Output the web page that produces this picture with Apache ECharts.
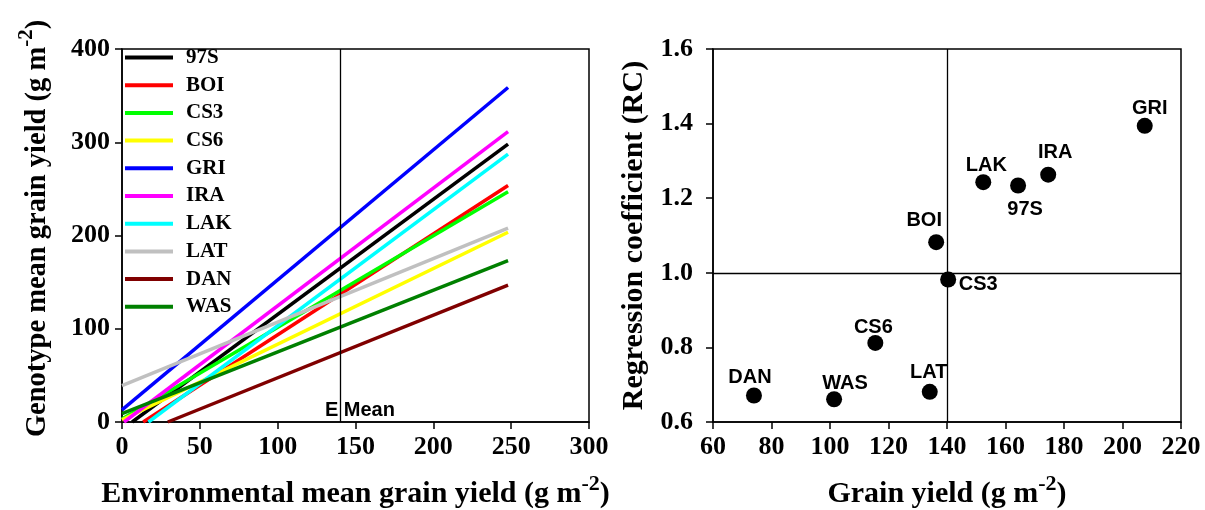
<!DOCTYPE html>
<html><head><meta charset="utf-8">
<script src="https://cdn.jsdelivr.net/npm/echarts/dist/echarts.min.js"></script>
<style>html,body{margin:0;padding:0;background:#fff}#c{width:1205px;height:510px}</style>
</head><body><div id="c"></div><script>
// ---- data ----
const genotypes = ['97S','BOI','CS3','CS6','GRI','IRA','LAK','LAT','DAN','WAS'];
const lineColors = ['#000000','#ff0000','#00ff00','#ffff00','#0000ff','#ff00ff','#00ffff','#c0c0c0','#800000','#008000'];
// regression lines (left panel): start and end points
const lineStartX = [6.5, 13.6, 0, 0, 0, 1.3, 17, 0, 29.4, 0];
const lineStartY = [0, 0, 3.3, 2.2, 13, 0, 0, 39, 0, 9.1];
const lineEndX   = [248, 248, 248, 248, 248, 248, 248, 248, 248, 248];
const lineEndY   = [298, 253.6, 246.8, 203.5, 358.7, 311.5, 287.2, 207.9, 146.7, 173];
const eMean = 140;
// right panel: grain yield vs regression coefficient
const grainYield = [164.3, 136.3, 140.4, 115.5, 207.6, 174.6, 152.4, 134.1, 74.0, 101.4];
const regCoef    = [1.234, 1.082, 0.982, 0.812, 1.394, 1.263, 1.243, 0.681, 0.671, 0.661];
const rcRef = 1.0;
// label offsets (style only)
const labelOffsets = {'97S':[7,24],'BOI':[-12,-22],'CS3':[30,5],'CS6':[-2,-15],'GRI':[5,-17],
  'IRA':[7,-22],'LAK':[3,-17],'LAT':[-1,-19],'DAN':[-4,-18],'WAS':[11,-16]};

const serif = 'Liberation Serif, Times New Roman, serif';
const sans = 'Liberation Sans, Arial, sans-serif';
const tickLabel = {fontFamily: serif, fontWeight: 'bold', fontSize: 26, color: '#000'};
const axLine = {show: true, onZero: false, lineStyle: {color: '#000', width: 1.5}};
const axTick = {show: true, inside: false, length: 7, lineStyle: {color: '#000', width: 1.5}};
function titleRich(size) {
  return {
    a: {fontFamily: serif, fontWeight: 'bold', fontSize: size, color: '#000', lineHeight: 36, verticalAlign: 'bottom'},
    s: {fontFamily: serif, fontWeight: 'bold', fontSize: Math.round(size * 0.73), color: '#000', lineHeight: 36, verticalAlign: 'top', padding: [0,0,14,0]}
  };
}

const series = genotypes.map((g, i) => {
  const s = {
    name: g, type: 'line', xAxisIndex: 0, yAxisIndex: 0,
    data: [[lineStartX[i], lineStartY[i]], [lineEndX[i], lineEndY[i]]],
    symbol: 'none', color: lineColors[i],
    lineStyle: {width: 3.5, color: lineColors[i]}, silent: true, animation: false
  };
  if (i === 0) {
    s.markLine = {silent: true, symbol: 'none', animation: false,
      lineStyle: {color: '#000', width: 1.3, type: 'solid'}, label: {show: false},
      data: [{xAxis: eMean}]};
    s.markPoint = {silent: true, animation: false, symbol: 'circle', symbolSize: 0,
      data: [{coord: [eMean, 0]}],
      label: {show: true, formatter: 'E Mean', position: 'inside', offset: [20, -12],
        fontFamily: sans, fontWeight: 'bold', fontSize: 20, color: '#000'}};
  }
  return s;
});

series.push({
  type: 'scatter', xAxisIndex: 1, yAxisIndex: 1, symbolSize: 16, animation: false,
  itemStyle: {color: '#000', opacity: 1},
  data: genotypes.map((g, i) => ({
    name: g, value: [grainYield[i], regCoef[i]],
    label: {show: true, formatter: g, position: 'inside', offset: labelOffsets[g],
      fontFamily: sans, fontWeight: 'bold', fontSize: 20, color: '#000', opacity: 1}
  })),
  markLine: {silent: true, symbol: 'none', animation: false,
    lineStyle: {color: '#000', width: 1.3, type: 'solid'}, label: {show: false},
    data: [{xAxis: eMean}, {yAxis: rcRef}]}
});

const chart = echarts.init(document.getElementById('c'));
chart.setOption({
  animation: false,
  backgroundColor: '#fff',
  grid: [
    {left: 122, top: 49, width: 467, height: 373, show: true, borderColor: '#000', borderWidth: 1.5,
      backgroundColor: 'transparent', containLabel: false, outerBoundsMode: 'none'},
    {left: 713, top: 49, width: 468, height: 373, show: true, borderColor: '#000', borderWidth: 1.5,
      backgroundColor: 'transparent', containLabel: false, outerBoundsMode: 'none'}
  ],
  legend: {
    data: genotypes, orient: 'vertical', left: 125, top: 47, padding: 0,
    itemWidth: 48, itemHeight: 4, itemGap: 6.7, icon: 'rect', selectedMode: false,
    textStyle: {fontFamily: serif, fontWeight: 'bold', fontSize: 21, color: '#000', lineHeight: 20, padding: [0,0,0,8]}
  },
  xAxis: [
    {gridIndex: 0, type: 'value', min: 0, max: 300, interval: 50,
      axisLine: axLine, axisTick: axTick, splitLine: {show: false},
      axisLabel: Object.assign({margin: 12}, tickLabel),
      name: '{a|Environmental mean grain yield (g m}{s|-2}{a|)}', nameLocation: 'middle', nameGap: 51,
      nameTextStyle: {rich: titleRich(30)}},
    {gridIndex: 1, type: 'value', min: 60, max: 220, interval: 20,
      axisLine: axLine, axisTick: axTick, splitLine: {show: false},
      axisLabel: Object.assign({margin: 12}, tickLabel),
      name: '{a|Grain yield (g m}{s|-2}{a|)}', nameLocation: 'middle', nameGap: 51,
      nameTextStyle: {rich: titleRich(30)}}
  ],
  yAxis: [
    {gridIndex: 0, type: 'value', min: 0, max: 400, interval: 100,
      axisLine: axLine, axisTick: axTick, splitLine: {show: false},
      axisLabel: Object.assign({margin: 12}, tickLabel),
      name: '{a|Genotype mean grain yield (g m}{s|-2}{a|)}', nameLocation: 'middle', nameGap: 70, nameRotate: 90,
      nameTextStyle: {rich: titleRich(28.5), padding: [0, 0, 0, 14]}},
    {gridIndex: 1, type: 'value', min: 0.6, max: 1.6, interval: 0.2,
      axisLine: axLine, axisTick: axTick, splitLine: {show: false},
      axisLabel: Object.assign({margin: 20, formatter: v => v.toFixed(1)}, tickLabel),
      name: 'Regression coefficient (RC)', nameLocation: 'middle', nameGap: 64, nameRotate: 90,
      nameTextStyle: {fontFamily: serif, fontWeight: 'bold', fontSize: 30, color: '#000'}}
  ],
  series: series
});
</script></body></html>
